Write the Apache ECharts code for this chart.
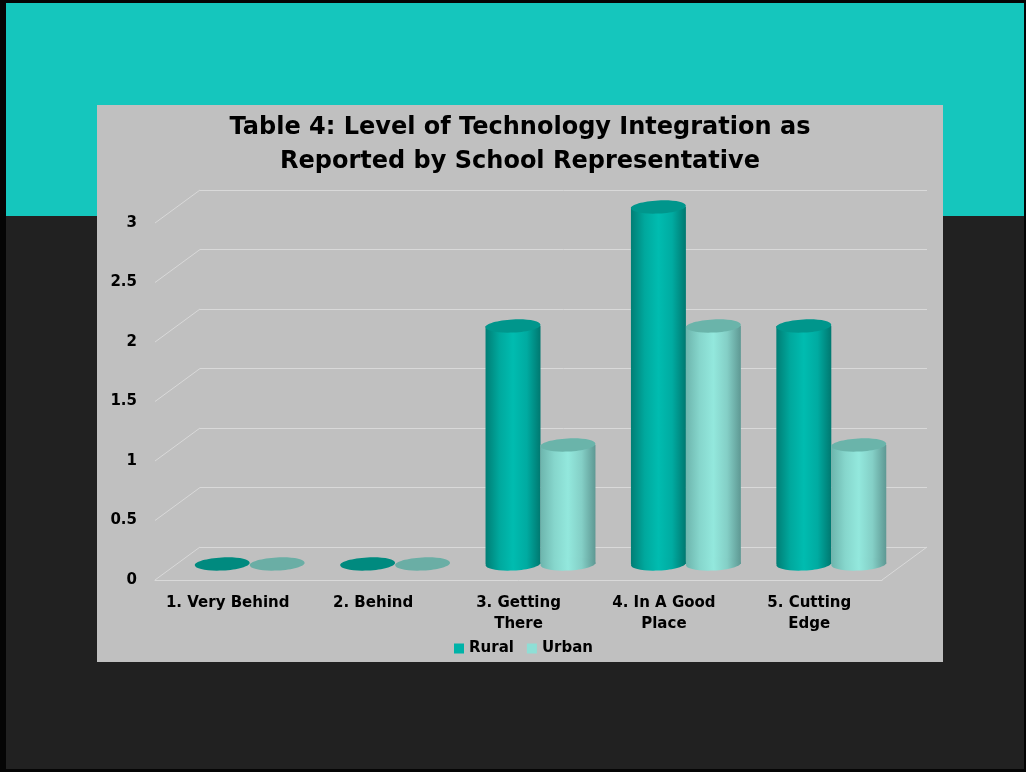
<!DOCTYPE html>
<html><head><meta charset="utf-8">
<script src="https://cdn.jsdelivr.net/npm/echarts@6/dist/echarts.min.js"></script>
<style>html,body{margin:0;padding:0;background:#000;} #c{width:1026px;height:772px;}</style>
</head><body><div id="c"></div><script>
// ---- data ----
const categories = ['1. Very Behind', '2. Behind', '3. Getting\nThere', '4. In A Good\nPlace', '5. Cutting\nEdge'];
const seriesNames = ['Rural', 'Urban'];
const rural = [0, 0, 2, 3, 2];
const urban = [0, 0, 1, 2, 1];
const yTicks = [0, 0.5, 1, 1.5, 2, 2.5, 3];
const titleText = 'Table 4: Level of Technology Integration as\nReported by School Representative';

// ---- styling ----
const FONT = '"DejaVu Sans", "Open Sans", sans-serif';
const DX = -45, DY = 33; // depth offset from back wall to front plane
const GRID_COLOR = '#D9D9D9';
const styles = [
  { legend: '#00B3A8', disc: '#008A7F', top: '#00968C',
    body: ['#007E75', '#00A89D', '#00BCB0', '#00ABA1', '#007870'] },
  { legend: '#8EDFD6', disc: '#6AAEA5', top: '#6AB4AA',
    body: ['#6DB5AD', '#86D6CC', '#93E8DD', '#84CFC6', '#5E9893'] }
];

function lg(stops) {
  const n = stops.length - 1;
  return new echarts.graphic.LinearGradient(0, 0, 1, 0,
    stops.map((c, i) => ({ offset: i / n, color: c })));
}

function cylinder(sIdx) {
  const st = styles[sIdx];
  return function (params, api) {
    const cat = api.value(0), val = api.value(1);
    const top = api.coord([cat, val]);
    const base = api.coord([cat, 0]);
    const band = api.size([1, 0])[0];
    const w = band * 0.378;
    const cx = top[0] + (sIdx === 0 ? -w / 2 : w / 2);
    const rx = w / 2, ry = 6.5;
    const rot = 0.05;
    const children = [];
    if (val > 0) {
      children.push({ type: 'rect', shape: { x: cx - rx, y: top[1], width: w, height: base[1] - top[1] },
        style: { fill: lg(st.body) } });
      children.push({ type: 'ellipse', shape: { cx: cx, cy: base[1], rx: rx, ry: ry },
        rotation: rot, originX: cx, originY: base[1], style: { fill: lg(st.body) } });
      children.push({ type: 'ellipse', shape: { cx: cx, cy: top[1], rx: rx, ry: ry },
        rotation: rot, originX: cx, originY: top[1], style: { fill: st.top } });
    } else {
      children.push({ type: 'ellipse', shape: { cx: cx, cy: base[1], rx: rx, ry: ry },
        rotation: rot, originX: cx, originY: base[1], style: { fill: st.disc } });
    }
    return { type: 'group', children: children };
  };
}

function diagonals(params, api) {
  const cs = params.coordSys;
  const v = api.value(1);
  const p = api.coord([0, v]);
  const y = p[1];
  const lines = [{ type: 'line', shape: { x1: cs.x + DX, y1: y + DY, x2: cs.x, y2: y },
    style: { stroke: GRID_COLOR, lineWidth: 1 } }];
  if (v === 0) {
    lines.push({ type: 'line', shape: { x1: cs.x + cs.width + DX, y1: y + DY, x2: cs.x + cs.width, y2: y },
      style: { stroke: GRID_COLOR, lineWidth: 1 } });
  }
  return { type: 'group', children: lines };
}

const chart = echarts.init(document.getElementById('c'), null, { renderer: 'canvas' });
const valueAxisBase = { type: 'value', min: 0, max: 3, interval: 0.5 };
chart.setOption({
  animation: false,
  textStyle: { fontFamily: FONT },
  graphic: [
    { type: 'rect', z: -100, shape: { x: 0, y: 0, width: 1026, height: 772 }, style: { fill: '#050505' } },
    { type: 'rect', z: -99, shape: { x: 6, y: 3, width: 1018, height: 766 }, style: { fill: '#212121' } },
    { type: 'rect', z: -98, shape: { x: 6, y: 3, width: 1018, height: 213 }, style: { fill: '#15C6BD' } },
    { type: 'rect', z: -97, shape: { x: 97, y: 105, width: 846, height: 557 }, style: { fill: '#C0C0C0' } }
  ],
  title: {
    text: titleText, left: 520, top: 111, padding: 0, textAlign: 'center',
    textStyle: { fontFamily: FONT, fontSize: 24, fontWeight: 'bold', color: '#000', lineHeight: 34 }
  },
  legend: {
    data: seriesNames, left: 454, top: 641, icon: 'rect', itemWidth: 10, itemHeight: 10,
    itemGap: 13, padding: 0,
    textStyle: { fontFamily: FONT, fontSize: 15, fontWeight: 'bold', color: '#000' }
  },
  grid: [
    { left: 200, right: 99, top: 190, bottom: 225 },   // back wall
    { left: 155, right: 144, top: 223, bottom: 192 },  // front plane
    { left: 177, right: 122, top: 207, bottom: 208 }   // bar plane
  ],
  xAxis: [
    { type: 'category', gridIndex: 0, data: categories, show: false },
    { type: 'category', gridIndex: 1, data: categories,
      axisLine: { show: true, lineStyle: { color: GRID_COLOR } }, axisTick: { show: false },
      axisLabel: { margin: 13, interval: 0, fontFamily: FONT, fontSize: 15, fontWeight: 'bold', color: '#000', lineHeight: 21 } },
    { type: 'category', gridIndex: 2, data: categories, show: false }
  ],
  yAxis: [
    Object.assign({ gridIndex: 0, axisLabel: { show: false }, axisLine: { show: false }, axisTick: { show: false },
      splitLine: { show: true, lineStyle: { color: GRID_COLOR, width: 1 } } }, valueAxisBase),
    Object.assign({ gridIndex: 1, axisLine: { show: false }, axisTick: { show: false }, splitLine: { show: false },
      axisLabel: { margin: 18, fontFamily: FONT, fontSize: 15, fontWeight: 'bold', color: '#000' } }, valueAxisBase),
    Object.assign({ gridIndex: 2, show: false, splitLine: { show: false } }, valueAxisBase)
  ],
  series: [
    { type: 'custom', name: 'grid-depth', xAxisIndex: 0, yAxisIndex: 0, silent: true, z: 1,
      renderItem: diagonals, data: yTicks.map(v => [0, v]) },
    { type: 'custom', name: seriesNames[0], xAxisIndex: 2, yAxisIndex: 2, z: 3,
      itemStyle: { color: styles[0].legend }, renderItem: cylinder(0),
      data: rural.map((v, i) => [i, v]) },
    { type: 'custom', name: seriesNames[1], xAxisIndex: 2, yAxisIndex: 2, z: 4,
      itemStyle: { color: styles[1].legend }, renderItem: cylinder(1),
      data: urban.map((v, i) => [i, v]) }
  ]
});
</script></body></html>
